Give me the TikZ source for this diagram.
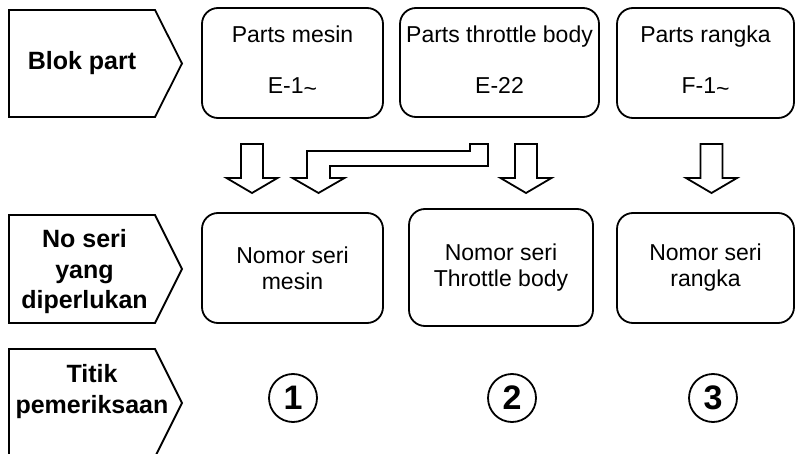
\documentclass[tikz,border=0pt]{standalone}
\usepackage{fontspec}
\setmainfont{Liberation Sans}
\usepackage{tikz}
\usetikzlibrary{positioning}

\tikzset{
  kotak/.style={draw, rounded corners=16pt, align=center, inner sep=0pt,
    font=\fontsize{23}{26}\selectfont},
  judul/.style={align=center, font=\fontsize{25}{30.5}\selectfont\bfseries},
  nomor/.style={draw, circle, minimum size=48pt, inner sep=0pt,
    font=\fontsize{34}{34}\selectfont\bfseries},
}

\begin{document}
\begin{tikzpicture}[x=1pt, y=-1pt, line width=1.8pt, line join=miter]
			\useasboundingbox (0,0) rectangle (795,454);
			% label kiri
			\foreach \ya/\yb in {10/117, 215/323, 349/457}
				\draw (9,\ya) -- (155,\ya) -- (182,{(\ya+\yb)/2}) -- (155,\yb) -- (9,\yb) -- cycle;
			\node[judul] (blok) at (82,63.5) {Blok part};
			\node[judul] (seri) at (84.5,272) {No seri\\yang\\diperlukan};
			\node[judul] (titik) at (92,391.5) {Titik\\pemeriksaan};
			
			% baris parts
			\node[kotak, minimum width=181pt, minimum height=110pt] (mesin) at (292.5,63) {Parts mesin\\[25pt]E-1\raisebox{-3pt}{\textasciitilde}\rule[-6pt]{0pt}{6pt}};
			\node[kotak, minimum width=199pt, minimum height=109pt] (throttle) at (499.5,62.5) {Parts throttle body\\[25pt]E-22\rule[-6pt]{0pt}{6pt}};
			\node[kotak, minimum width=177pt, minimum height=110pt] (rangka) at (705.5,63) {Parts rangka\\[25pt]F-1\raisebox{-3pt}{\textasciitilde}\rule[-6pt]{0pt}{6pt}};
			
			% baris nomor seri
			\node[kotak, minimum width=181pt, minimum height=110pt] (nomesin) at (292.5,268) {Nomor seri\\mesin};
			\node[kotak, minimum width=184pt, minimum height=117pt] (nothrottle) at (501,267.5) {Nomor seri\\Throttle body};
			\node[kotak, minimum width=177pt, minimum height=110pt] (norangka) at (705.5,268) {Nomor seri\\rangka};
			
			% titik pemeriksaan
			\node[nomor] (c1) at (293,398) {1};
			\node[nomor] (c2) at (512,398) {2};
			\node[nomor] (c3) at (713,398) {3};
			
			% panah
			\foreach \xc in {252, 526, 711.5}
				\draw ({\xc-11},144) -- ({\xc+11},144) -- ({\xc+11},178) -- ({\xc+25.5},178) -- (\xc,193) -- ({\xc-25.5},178) -- ({\xc-11},178) -- cycle;
			\draw (307,151) -- (470,151) -- (470,144) -- (488,144) -- (488,166) -- (330,166) -- (330,178) -- (344.5,178) -- (318.5,193) -- (292.5,178) -- (307,178) -- cycle;
		\end{tikzpicture}
\end{document}
